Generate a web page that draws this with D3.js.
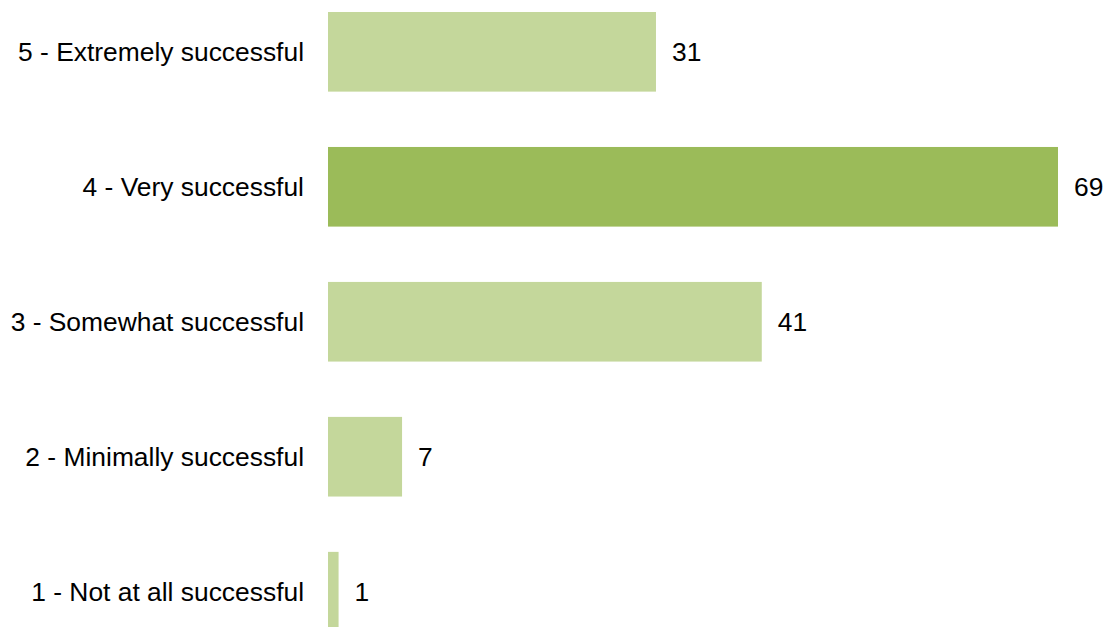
<!DOCTYPE html>
<html>
<head>
<meta charset="utf-8">
<script src="https://cdn.jsdelivr.net/npm/d3@7"></script>
<style>
  html, body { margin: 0; padding: 0; background: #ffffff; }
  svg { display: block; }
  text { font-family: "Liberation Sans", Arial, sans-serif; fill: #000; }
</style>
</head>
<body>
<svg id="chart" width="1106" height="627"></svg>
<script>
// Survey responses: how successful was the outcome
const categories = [
  "5 - Extremely successful",
  "4 - Very successful",
  "3 - Somewhat successful",
  "2 - Minimally successful",
  "1 - Not at all successful"
];
const counts = [31, 69, 41, 7, 1];
const highlight = "4 - Very successful";

const svg = d3.select("#chart");
const fontSize = 26.4;
const x0 = 328;

const x = d3.scaleLinear()
  .domain([0, 69])
  .range([x0, 1058]);

const y = d3.scaleBand()
  .domain(categories)
  .range([12, 631.5])
  .paddingInner(0.41)
  .paddingOuter(0);

const rows = categories.map((c, i) => ({ cat: c, val: counts[i] }));

// bars
svg.append("g")
  .selectAll("rect")
  .data(rows)
  .join("rect")
  .attr("x", x(0))
  .attr("y", d => y(d.cat))
  .attr("width", d => x(d.val) - x(0))
  .attr("height", y.bandwidth())
  .attr("fill", d => d.cat === highlight ? "#9bbb59" : "#c4d79b");

// category labels
svg.append("g")
  .selectAll("text")
  .data(rows)
  .join("text")
  .attr("x", x0 - 24)
  .attr("y", d => y(d.cat) + y.bandwidth() / 2)
  .attr("dy", "0.35em")
  .attr("text-anchor", "end")
  .style("font-size", fontSize + "px")
  .text(d => d.cat);

// value labels
svg.append("g")
  .selectAll("text")
  .data(rows)
  .join("text")
  .attr("x", d => x(d.val) + 16)
  .attr("y", d => y(d.cat) + y.bandwidth() / 2)
  .attr("dy", "0.35em")
  .attr("text-anchor", "start")
  .style("font-size", fontSize + "px")
  .text(d => d.val);
</script>
</body>
</html>
